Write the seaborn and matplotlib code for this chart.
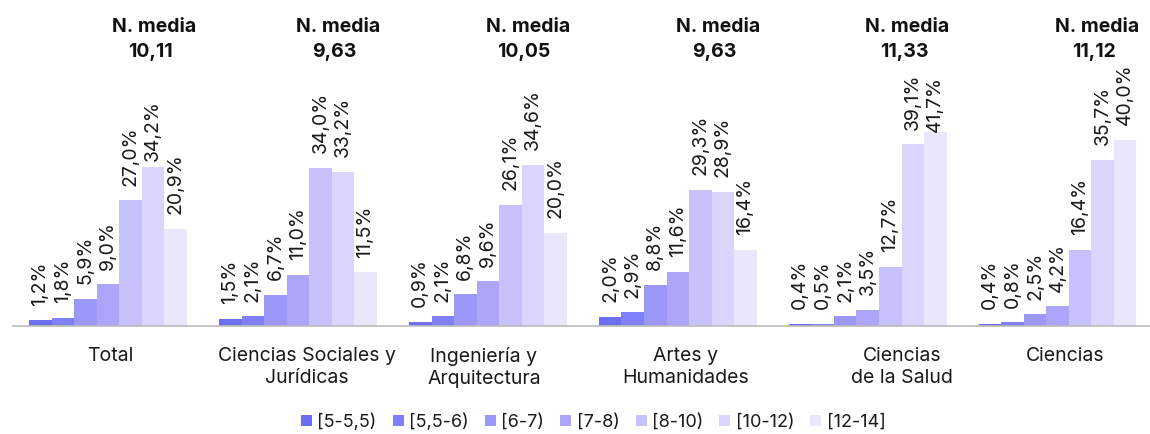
import pandas as pd
import matplotlib
matplotlib.use('Agg')
import matplotlib.pyplot as plt
import matplotlib.transforms as mtransforms
from matplotlib.patches import Patch
import seaborn as sns

# -------------------------------
# data
# -------------------------------
categories = ['Total', 'Ciencias Sociales y\nJurídicas', 'Ingeniería y\nArquitectura',
              'Artes y\nHumanidades', 'Ciencias\nde la Salud', 'Ciencias']
ranges = ['[5-5,5)', '[5,5-6)', '[6-7)', '[7-8)', '[8-10)', '[10-12)', '[12-14]']
total = [1.2, 1.8, 5.9, 9.0, 27.0, 34.2, 20.9]
sociales = [1.5, 2.1, 6.7, 11.0, 34.0, 33.2, 11.5]
ingenieria = [0.9, 2.1, 6.8, 9.6, 26.1, 34.6, 20.0]
artes = [2.0, 2.9, 8.8, 11.6, 29.3, 28.9, 16.4]
salud = [0.4, 0.5, 2.1, 3.5, 12.7, 39.1, 41.7]
ciencias = [0.4, 0.8, 2.5, 4.2, 16.4, 35.7, 40.0]
medias = ['10,11', '9,63', '10,05', '9,63', '11,33', '11,12']

colors = ['#6e6ef2', '#8080fc', '#9b98fa', '#ada5fa', '#c7c1fc', '#d9d5fd', '#eae7fd']

series = [total, sociales, ingenieria, artes, salud, ciencias]
rows = []
for cat, vals in zip(categories, series):
    for r, v in zip(ranges, vals):
        rows.append({'grupo': cat, 'nota': r, 'pct': v})
df = pd.DataFrame(rows)

sns.set_style('white')
plt.rcParams['font.family'] = ['Inter', 'DejaVu Sans']

fig = plt.figure(figsize=(11.5, 4.34), dpi=100)
ax = fig.add_axes([0.0113, 0.249, 0.991, 0.751])

sns.barplot(data=df, x='grupo', y='pct', hue='nota', order=categories,
            hue_order=ranges, palette=colors, width=0.83, gap=0,
            saturation=1, linewidth=0, legend=False, ax=ax)

# rotated value labels (a couple sit closer to their bar, as in the original)
close = {(0, 5): 4, (4, 6): 0}
for j, (cont, r) in enumerate(zip(ax.containers, ranges)):
    labs = [f"{v:.1f}%".replace('.', ',') for v in df[df['nota'] == r]['pct']]
    anns = ax.bar_label(cont, labels=labs, rotation=90, padding=10.5,
                        fontsize=14, color='#1a1a1a')
    for i, a in enumerate(anns):
        if (i, j) in close:
            a.xyann = (0, close[(i, j)])

ax.set_xlim(-0.5, 5.5)
ax.set_ylim(0, 70.1)
ax.set_xlabel('')
ax.set_ylabel('')
ax.set_yticks([])
for s in ['top', 'right', 'left']:
    ax.spines[s].set_visible(False)
ax.spines['bottom'].set_color('#bbbbbb')
ax.spines['bottom'].set_linewidth(1.2)

# category labels, boundary ticks
ax.set_xticks(range(len(categories)))
ax.set_xticklabels(categories, fontsize=14, linespacing=1.3)
ax.tick_params(axis='x', which='major', length=0, pad=15, colors='#1a1a1a')
ax.set_xticks([i - 0.5 for i in range(len(categories) + 1)], minor=True)
ax.tick_params(axis='x', which='minor', length=5, width=1, color='#bbbbbb', direction='out')
for k, dx in [(0, 0.02), (1, 0.09), (2, -0.04), (3, 0.08), (4, 0.34), (5, 0.08)]:
    lab = ax.get_xticklabels()[k]
    lab.set_transform(lab.get_transform() + mtransforms.ScaledTranslation(dx, 0, fig.dpi_scale_trans))

# N. media headers
for i, m in enumerate(medias):
    dx = 0.245 if i == 0 else 0.21
    tr = ax.get_xaxis_transform()
    ax.text(i + dx, 0.916, 'N. media', transform=tr, ha='center', va='center',
            fontsize=14, fontweight='bold', color='#111111')
    ax.text(i + dx - 0.02, 0.84, m, transform=tr, ha='center', va='center',
            fontsize=14, fontweight='bold', color='#111111')

handles = [Patch(facecolor=c, edgecolor='none') for c in colors]
fig.legend(handles, ranges, loc='center', bbox_to_anchor=(0.516, 0.028), ncol=7,
           frameon=False, fontsize=13, handlelength=0.6, handleheight=0.6,
           handletextpad=0.3, columnspacing=0.9, labelcolor='#1a1a1a')

fig.savefig('out.png', dpi=100)
